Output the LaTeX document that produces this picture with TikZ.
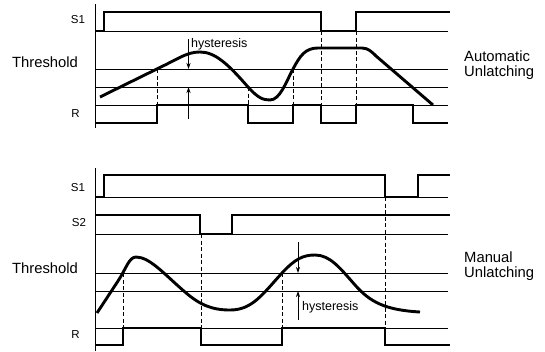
\documentclass[tikz,border=0pt]{standalone}
\usepackage{fontspec}
\setmainfont{Liberation Sans}
\usetikzlibrary{arrows.meta}
\begin{document}
\begin{tikzpicture}[x=1pt,y=-1pt,
  grid/.style={line width=0.8pt},
  wave/.style={line width=2.9pt, line join=miter, line cap=butt},
  curve/.style={line width=2.9pt, line join=round},
  guide/.style={line width=0.8pt, dash pattern=on 4pt off 2.5pt},
  harrow/.style={line width=0.8pt, -{Stealth[length=6pt,width=4pt]}},
  biglab/.style={font=\fontsize{14.8}{15}\selectfont, inner sep=0pt},
  siglab/.style={font=\fontsize{11.5}{13}\selectfont, inner sep=0pt},
  hyslab/.style={font=\fontsize{12.5}{14}\selectfont, inner sep=0pt, anchor=west},
  ]
\useasboundingbox (0,0) rectangle (545,351);

% ================= TOP: automatic unlatching =================
\coordinate (tA1) at (95,4);
\coordinate (tA2) at (95,128);
\draw[grid] (tA1) -- (tA2);
% thin reference lines
\foreach \yy in {31,69,87,105}
  \draw[grid] (95,\yy) -- (448,\yy);
% S1
\draw[wave] (95,31) -- (104,31) -- (104,12) -- (321,12) -- (321,31) -- (356,31) -- (356,12) -- (450,12);
% R
\draw[wave] (95,123) -- (157,123) -- (157,105) -- (248,105) -- (248,123) -- (293,123) -- (293,105)
  -- (321,105) -- (321,123) -- (356,123) -- (356,105) -- (413,105) -- (413,123) -- (448,123);
% threshold curve
\draw[curve] (100,97) -- (165,65) .. controls (180,57.6) and (188,52) .. (200,52)
  .. controls (215,52) and (228,64) .. (248,87)
  .. controls (258,98) and (263,100) .. (270,100)
  .. controls (280,100) and (286,82) .. (293,69)
  .. controls (300,56) and (305,48) .. (318,48) -- (362,48)
  .. controls (368,48) and (372,52) .. (376,56) -- (433,105);
% dashed guides
\coordinate (tg1a) at (157,69);  \coordinate (tg1b) at (157,105);
\coordinate (tg2a) at (248,87);  \coordinate (tg2b) at (248,105);
\coordinate (tg3a) at (293,69);  \coordinate (tg3b) at (293,105);
\coordinate (tg4a) at (321,31);  \coordinate (tg4b) at (321,105);
\coordinate (tg5a) at (356,31);  \coordinate (tg5b) at (356,105);
\foreach \g in {1,...,5} \draw[guide] (tg\g a) -- (tg\g b);
% hysteresis arrows
\coordinate (th1) at (188.5,39);  \coordinate (th2) at (188.5,69);
\coordinate (th3) at (188.5,119); \coordinate (th4) at (188.5,87);
\draw[harrow] (th1) -- (th2);
\draw[harrow] (th3) -- (th4);
\node[hyslab] (thys) at (191,44) {hysteresis};
% labels
\node[siglab] (tS1) at (78,20) {S1};
\node[biglab] (tThr) at (45,62) {Threshold};
\node[siglab] (tR) at (75.5,114) {R};
\node[biglab, anchor=west, align=left] (tAuto) at (464,65) {Automatic\\Unlatching};

% ================= BOTTOM: manual unlatching =================
\coordinate (bA1) at (95,168);
\coordinate (bA2) at (95,351);
\draw[grid] (bA1) -- (bA2);
\foreach \yy in {197,234,273,291,328}
  \draw[grid] (95,\yy) -- (448,\yy);
% S1
\draw[wave] (95,197) -- (104,197) -- (104,175) -- (385,175) -- (385,197) -- (418,197) -- (418,175) -- (450,175);
% S2
\draw[wave] (95,215) -- (200,215) -- (200,234) -- (232,234) -- (232,215) -- (450,215);
% R
\draw[wave] (95,345) -- (123,345) -- (123,328) -- (201,328) -- (201,345) -- (282,345) -- (282,328)
  -- (385,328) -- (385,345) -- (450,345);
% threshold curve
\draw[curve] (97,313) -- (118,281) .. controls (126,269) and (129,257) .. (136,257)
  .. controls (150,257) and (165,275) .. (185,292)
  .. controls (200,305) and (212,310) .. (230,310)
  .. controls (252,310) and (262,295) .. (282,273)
  .. controls (295,259) and (303,255) .. (315,255)
  .. controls (330,255) and (340,268) .. (355,285)
  .. controls (370,302) and (385,310) .. (420,312);
% dashed guides
\coordinate (bg1a) at (123,273); \coordinate (bg1b) at (123,328);
\coordinate (bg2a) at (201,234); \coordinate (bg2b) at (201,328);
\coordinate (bg3a) at (282,273); \coordinate (bg3b) at (282,328);
\coordinate (bg4a) at (385,197); \coordinate (bg4b) at (385,328);
\foreach \g in {1,...,4} \draw[guide] (bg\g a) -- (bg\g b);
% hysteresis arrows
\coordinate (bh1) at (298,242); \coordinate (bh2) at (298,273);
\coordinate (bh3) at (298,320); \coordinate (bh4) at (298,291);
\draw[harrow] (bh1) -- (bh2);
\draw[harrow] (bh3) -- (bh4);
\node[hyslab] (bhys) at (302,307) {hysteresis};
% labels
\node[siglab] (bS1) at (78,188) {S1};
\node[siglab] (bS2) at (79,223) {S2};
\node[biglab] (bThr) at (45,268) {Threshold};
\node[siglab] (bR) at (75.5,335) {R};
\node[biglab, anchor=west, align=left] (bMan) at (464,266) {Manual\\Unlatching};
\end{tikzpicture}
\end{document}
